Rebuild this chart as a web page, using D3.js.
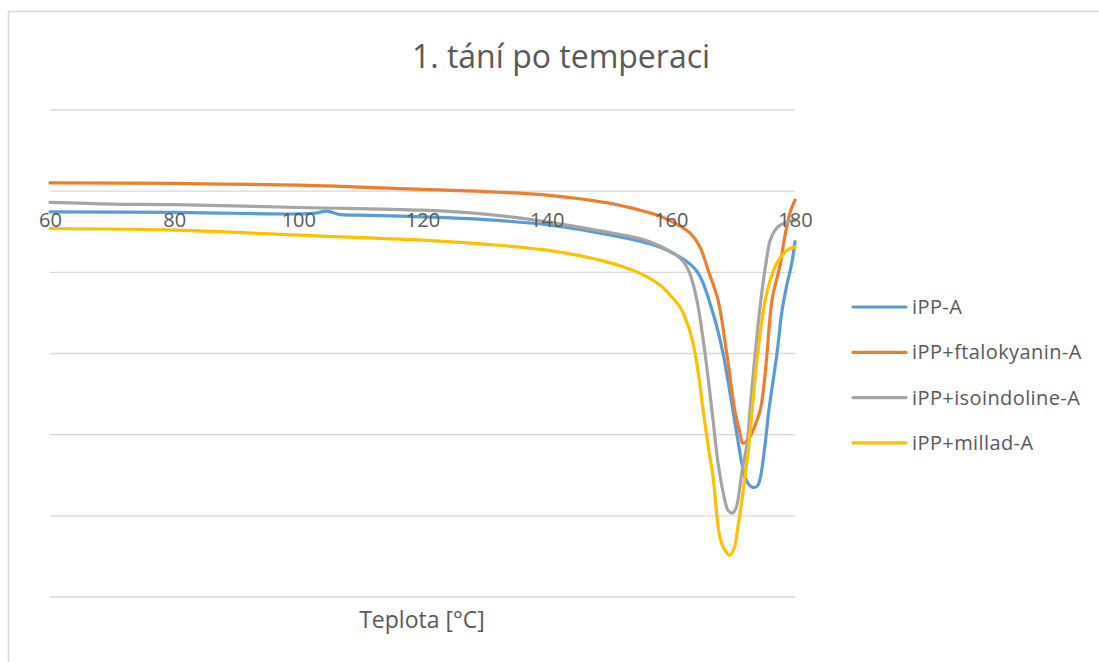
<!DOCTYPE html>
<html>
<head>
<meta charset="utf-8">
<script src="https://cdn.jsdelivr.net/npm/d3@7"></script>
<style>
  html, body { margin: 0; padding: 0; background: #fff; }
  svg { display: block; }
  text { font-family: "Open Sans", Lato, sans-serif; fill: #595959; }
</style>
</head>
<body>
<svg id="chart" width="1099" height="662"></svg>
<script>
// ---- data ----
const title = "1. tání po temperaci";
const xTitle = "Teplota [°C]";
const xTicks = [60, 80, 100, 120, 140, 160, 180];
const yGrid = [1, 0, -1, -2, -3, -4, -5];
const seriesNames = ["iPP-A", "iPP+ftalokyanin-A", "iPP+isoindoline-A", "iPP+millad-A"];
const seriesColors = ["#5B9BD5", "#ED7D31", "#A5A5A5", "#FFC000"];

const tempA = [60, 80, 100, 102.7, 104.6, 106.7, 109.9, 120, 130, 140, 148.6, 155, 158.3, 161.5, 163.1, 164.2, 165.2, 166.15, 167.3, 168.4, 170.0, 170.8, 171.5, 172.3, 173.1, 173.9, 174.4, 175.2, 175.8, 177.1, 177.9, 178.7, 179.5, 180];
const iPP_A = [-0.255, -0.262, -0.281, -0.271, -0.246, -0.290, -0.296, -0.317, -0.351, -0.413, -0.517, -0.616, -0.690, -0.813, -0.899, -0.986, -1.133, -1.343, -1.639, -1.996, -2.698, -3.068, -3.375, -3.585, -3.647, -3.634, -3.536, -3.105, -2.698, -1.996, -1.480, -1.150, -0.880, -0.620];

const tempF = [60, 80, 100, 120, 130, 140, 150, 155, 158.3, 160.35, 163.1, 164.7, 166.0, 167.6, 169.0, 170.3, 171.1, 171.6, 172.4, 173.4, 174.4, 175.0, 175.5, 176.3, 177.6, 178.4, 179.2, 180];
const iPP_ftalokyanin_A = [0.102, 0.095, 0.074, 0.021, -0.006, -0.049, -0.148, -0.234, -0.308, -0.382, -0.517, -0.690, -0.973, -1.343, -1.996, -2.698, -2.969, -3.105, -3.068, -2.920, -2.698, -2.390, -1.996, -1.343, -0.911, -0.542, -0.265, -0.111];

const tempI = [60, 70.1, 80, 100, 120, 130, 140, 148.6, 155, 158.3, 160.35, 161.5, 162.3, 163.1, 164.2, 165.5, 166.8, 167.6, 168.4, 169.2, 169.9, 170.5, 171.5, 172.3, 172.75, 173.6, 174.5, 175.4, 176.0, 176.8, 177.6, 179.2, 180];
const iPP_isoindoline_A = [-0.139, -0.160, -0.166, -0.201, -0.234, -0.283, -0.378, -0.489, -0.585, -0.678, -0.764, -0.825, -0.899, -1.022, -1.343, -1.996, -2.821, -3.350, -3.700, -3.930, -3.967, -3.905, -3.437, -3.105, -2.698, -1.996, -1.343, -0.850, -0.604, -0.480, -0.419, -0.370, -0.357];

const tempM = [60, 80, 100, 120, 130, 140, 148.6, 153.9, 155, 158.3, 159.9, 161.5, 162.45, 163.25, 163.9, 164.55, 165.2, 166.0, 166.8, 167.9, 168.7, 169.5, 170.2, 170.8, 172.3, 173.1, 174.0, 175.2, 176.0, 177.1, 178.7, 180];
const iPP_millad_A = [-0.460, -0.480, -0.542, -0.604, -0.653, -0.727, -0.850, -0.973, -1.010, -1.158, -1.281, -1.429, -1.589, -1.774, -1.996, -2.304, -2.698, -3.129, -3.524, -4.263, -4.423, -4.484, -4.398, -4.140, -3.314, -2.698, -1.996, -1.343, -1.096, -0.887, -0.727, -0.690];

const seriesTemps = [tempA, tempF, tempI, tempM];
const seriesValues = [iPP_A, iPP_ftalokyanin_A, iPP_isoindoline_A, iPP_millad_A];

// ---- layout ----
const svg = d3.select("#chart");
const W = 1099, H = 662;
const plot = { left: 50, right: 795, top: 110, bottom: 597 };

svg.append("rect").attr("x", 8.5).attr("y", 11.5).attr("width", W + 20).attr("height", H + 20)
  .attr("fill", "#fff").attr("stroke", "#d9d9d9").attr("stroke-width", 1.5);

const x = d3.scaleLinear().domain([60, 180]).range([plot.left, plot.right]);
const y = d3.scaleLinear().domain([-5, 1]).range([plot.bottom, plot.top]);

// gridlines
svg.append("g").selectAll("line").data(yGrid).join("line")
  .attr("x1", plot.left).attr("x2", plot.right)
  .attr("y1", d => y(d)).attr("y2", d => y(d))
  .attr("stroke", "#d9d9d9").attr("stroke-width", 1.3);

// title
svg.append("text").attr("x", 561).attr("y", 68).attr("text-anchor", "middle")
  .style("font-size", "32px").text(title);

// lines
const line = d3.line().x(d => x(d[0])).y(d => y(d[1])).curve(d3.curveCatmullRom.alpha(0.5));
seriesNames.forEach((name, i) => {
  const pts = seriesTemps[i].map((t, j) => [t, seriesValues[i][j]]);
  svg.append("path").datum(pts).attr("d", line)
    .attr("fill", "none").attr("stroke", seriesColors[i])
    .attr("stroke-width", 3.2).attr("stroke-linejoin", "round").attr("stroke-linecap", "round");
});

// x axis (labels only, axis crosses at 0)
const xAxis = d3.axisBottom(x).tickValues(xTicks).tickSize(0).tickPadding(22).tickFormat(d3.format("d"));
const gx = svg.append("g").attr("transform", `translate(0,${y(0)})`).call(xAxis);
gx.select(".domain").remove();
gx.selectAll("text").style("font-size", "20px").style("fill", "#595959").style("font-family", "'Open Sans', sans-serif");

// axis title
svg.append("text").attr("x", 422).attr("y", 628).attr("text-anchor", "middle")
  .style("font-size", "23px").text(xTitle);

// legend
const lg = svg.append("g");
seriesNames.forEach((name, i) => {
  const yy = 307 + i * 45.3;
  lg.append("line").attr("x1", 853).attr("x2", 906).attr("y1", yy).attr("y2", yy)
    .attr("stroke", seriesColors[i]).attr("stroke-width", 3.2).attr("stroke-linecap", "round");
  lg.append("text").attr("x", 912).attr("y", yy + 7).style("font-size", "20px")
    .style("letter-spacing", "0.4px").text(name);
});
</script>
</body>
</html>
